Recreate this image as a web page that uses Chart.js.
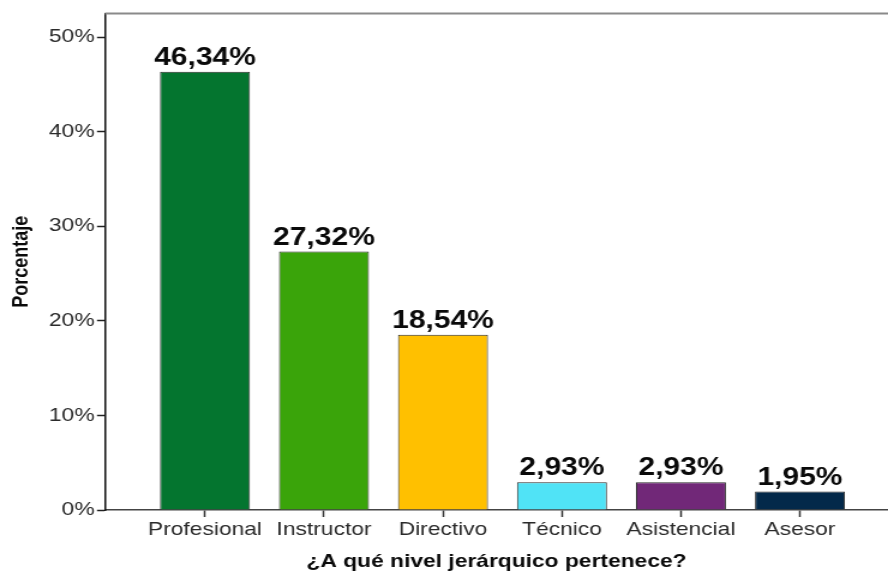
<!DOCTYPE html>
<html>
<head>
<meta charset="utf-8">
<script src="https://cdn.jsdelivr.net/npm/chart.js@4"></script>
<style>
  html, body { margin: 0; padding: 0; background: #fff; }
  #wrap { width: 888px; height: 573px; overflow: hidden; position: relative; }
  #c { transform: scaleX(1.2); transform-origin: 0 0; display: block; }
</style>
</head>
<body>
<div id="wrap"><canvas id="c" width="740" height="573"></canvas></div>
<script>
const categories = ['Profesional', 'Instructor', 'Directivo', 'Técnico', 'Asistencial', 'Asesor'];
const porcentajes = [46.34, 27.32, 18.54, 2.93, 2.93, 1.95];
const etiquetas = ['46,34%', '27,32%', '18,54%', '2,93%', '2,93%', '1,95%'];
const yTicks = [0, 10, 20, 30, 40, 50];
const colores = ['#04752F', '#3AA40A', '#FFC000', '#50E3F6', '#712878', '#03294A'];
const xTitle = '¿A qué nivel jerárquico pertenece?';
const yTitle = 'Porcentaje';

const FONT = '"Liberation Sans", Arial, sans-serif';

const valueLabels = {
  id: 'valueLabels',
  afterDatasetsDraw(chart) {
    const ctx = chart.ctx;
    const meta = chart.getDatasetMeta(0);
    ctx.save();
    ctx.font = 'bold 25px ' + FONT;
    ctx.fillStyle = '#0a0a0a';
    ctx.textAlign = 'center';
    ctx.textBaseline = 'alphabetic';
    meta.data.forEach((el, i) => {
      ctx.fillText(etiquetas[i], el.x, el.y - 7);
    });
    ctx.restore();
  }
};

const frame = {
  id: 'frame',
  afterDraw(chart) {
    const { ctx, chartArea } = chart;
    ctx.save();
    ctx.strokeStyle = '#8a8a8a';
    ctx.lineWidth = 2;
    ctx.beginPath();
    ctx.moveTo(chartArea.left, chartArea.top);
    ctx.lineTo(chartArea.right, chartArea.top);
    ctx.stroke();
    ctx.restore();
  }
};

new Chart(document.getElementById('c'), {
  type: 'bar',
  data: {
    datasets: [{
      data: porcentajes.map((v, i) => ({ x: i, y: v })),
      backgroundColor: colores,
      borderColor: '#2a2a2a',
      borderWidth: 1,
      barPercentage: 0.756,
      categoryPercentage: 1
    }]
  },
  options: {
    responsive: false,
    devicePixelRatio: 1,
    animation: false,
    layout: { padding: { top: 11, right: 0, left: 0, bottom: 0 } },
    plugins: { legend: { display: false }, tooltip: { enabled: false } },
    scales: {
      x: {
        type: 'linear',
        offset: false,
        min: -0.84,
        max: 5.74,
        afterBuildTicks(scale) {
          scale.ticks = categories.map((_, i) => ({ value: i }));
        },
        afterFit(scale) { scale.height = 63; },
        ticks: {
          autoSkip: false,
          maxRotation: 0,
          padding: 1,
          color: '#2a2a2a',
          font: { family: FONT, size: 19 },
          callback: (v) => categories[v] ?? ''
        },
        grid: { drawOnChartArea: false, offset: false, tickLength: 7, color: '#333', tickWidth: 1.5 },
        border: { color: '#444', width: 1.5 },
        title: {
          display: true,
          text: xTitle,
          color: '#0a0a0a',
          font: { family: FONT, size: 19, weight: 'bold' },
          padding: { top: 2, bottom: 0 }
        }
      },
      y: {
        min: 0,
        max: 52.5,
        afterBuildTicks(scale) {
          scale.ticks = yTicks.map(v => ({ value: v }));
        },
        afterFit(scale) { scale.width = 87.5; },
        ticks: {
          padding: 2,
          color: '#2a2a2a',
          font: { family: FONT, size: 19 },
          callback: (v) => v + '%'
        },
        grid: { drawOnChartArea: false, tickLength: 6.7, color: '#222', tickWidth: 1.5 },
        border: { color: '#111', width: 1.5 },
        title: {
          display: true,
          text: yTitle,
          color: '#0a0a0a',
          font: { family: FONT, size: 18, weight: 'bold' },
          padding: { top: 7, bottom: 0 }
        }
      }
    }
  },
  plugins: [valueLabels, frame]
});
</script>
</body>
</html>
